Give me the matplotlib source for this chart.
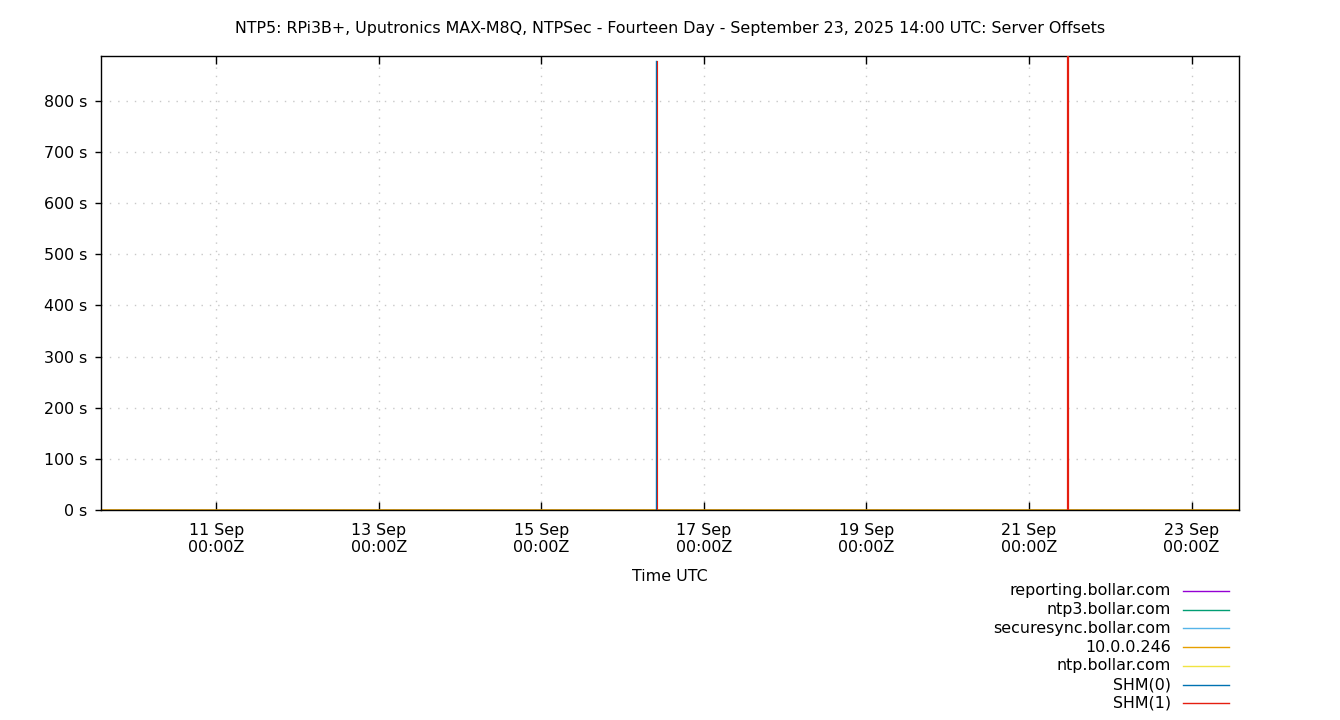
import matplotlib
matplotlib.use("Agg")
import matplotlib.pyplot as plt
import matplotlib.dates as mdates
from matplotlib import ticker
from datetime import datetime
from matplotlib.lines import Line2D

# Data
start_time = datetime(2025, 9, 9, 14, 0)
end_time = datetime(2025, 9, 23, 14, 0)

series_names = ["reporting.bollar.com", "ntp3.bollar.com", "securesync.bollar.com",
                "10.0.0.246", "ntp.bollar.com", "SHM(0)", "SHM(1)"]
series_colors = ["#9400d3", "#009e73", "#56b4e9", "#e69f00", "#f0e442", "#0072b2", "#e51e10"]

# offsets in seconds
orange_times = [start_time, end_time]
orange_offsets = [0, 0]

shm0_times = [datetime(2025, 9, 16, 9, 50), datetime(2025, 9, 16, 9, 50)]
shm0_offsets = [0, 878]

shm1_times = [datetime(2025, 9, 16, 10, 5), datetime(2025, 9, 16, 10, 5),
              datetime(2025, 9, 21, 11, 30), datetime(2025, 9, 21, 11, 30)]
shm1_offsets = [0, 878, 0, 5000]

y_ticks = [0, 100, 200, 300, 400, 500, 600, 700, 800]
y_max = 888

title = "NTP5: RPi3B+, Uputronics MAX-M8Q, NTPSec - Fourteen Day - September 23, 2025 14:00 UTC: Server Offsets"
fs = 11.4

fig = plt.figure(figsize=(13.4, 7.2), dpi=100)
ax = fig.add_axes([101 / 1340, 1 - 510 / 720, 1138 / 1340, 454 / 720])

# Lines
ax.plot(orange_times, orange_offsets, color=series_colors[3], lw=1.2, zorder=1)
ax.plot(shm0_times, shm0_offsets, color=series_colors[5], lw=1.0, zorder=2)
ax.plot(shm1_times[:2], shm1_offsets[:2], color=series_colors[6], lw=0.8, zorder=3)
ax.plot(shm1_times[2:], shm1_offsets[2:], color=series_colors[6], lw=1.6, zorder=3)

ax.set_xlim(start_time, end_time)
ax.set_ylim(0, y_max)

# Axis Ticks
ax.xaxis.set_major_locator(mdates.DayLocator(bymonthday=[11, 13, 15, 17, 19, 21, 23]))
ax.xaxis.set_major_formatter(mdates.DateFormatter("%d Sep\n%H:%MZ"))
ax.set_yticks(y_ticks)
ax.yaxis.set_major_formatter(ticker.FuncFormatter(lambda v, p: "%d s" % v))

ax.tick_params(axis="x", direction="in", top=True, length=6, width=1, pad=9, labelsize=fs)
ax.tick_params(axis="y", direction="out", right=False, length=4, width=1, pad=6, labelsize=fs)
for s in ax.spines.values():
    s.set_linewidth(1.0)
    s.set_zorder(2.5)

ax.grid(True, linestyle=(0, (1, 5)), color="#c8c8c8", linewidth=1.0)
ax.set_axisbelow(True)

# Labels
ax.set_xlabel("Time UTC", fontsize=fs, labelpad=10)
fig.text(670 / 1340, 1 - 29 / 720, title, ha="center", va="center", fontsize=fs)

# Legend (drawn by hand to match the gnuplot layout)
for i, (name, col) in enumerate(zip(series_names, series_colors)):
    y = 1 - (591 + i * 18.7) / 720
    fig.text(1171 / 1340, y, name, ha="right", va="center", fontsize=fs)
    fig.add_artist(Line2D([1183 / 1340, 1229 / 1340], [y, y], color=col, lw=1.0,
                          transform=fig.transFigure))

plt.savefig("out.png", dpi=100)
